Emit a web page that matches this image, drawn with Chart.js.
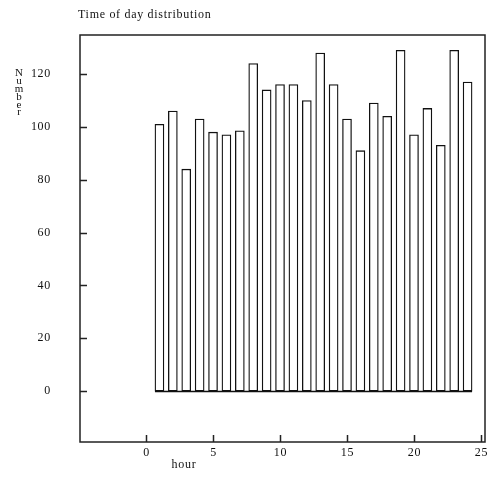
<!DOCTYPE html>
<html>
<head>
<meta charset="utf-8">
<script src="https://cdn.jsdelivr.net/npm/chart.js@4"></script>
<style>
  html, body { margin: 0; padding: 0; background: #fff; }
  #wrap { width: 488px; height: 477px; }
</style>
</head>
<body>
<div id="wrap"><canvas id="hourChart" width="488" height="477"></canvas></div>
<script>
// hour of day -> count
const hours = [1, 2, 3, 4, 5, 6, 7, 8, 9, 10, 11, 12, 13, 14, 15, 16, 17, 18, 19, 20, 21, 22, 23, 24];
const counts = [101, 106, 84, 103, 98, 97, 98.5, 124, 114, 116, 116, 110, 128, 116, 103, 91, 109, 104, 129, 97, 107, 93, 129, 117];
const xTicks = [0, 5, 10, 15, 20, 25];
const yTicks = [0, 20, 40, 60, 80, 100, 120];

const titleText = "Time of day distribution";
const xLabel = "hour";
const yLabel = "Number";
const FONT = "'Liberation Serif', 'DejaVu Serif', serif";
const INK = '#222';

// frame, inward ticks, baseline, and all text drawn by hand
const framePlugin = {
    id: 'frame',
    afterDraw(chart) {
        const ctx = chart.ctx;
        const a = chart.chartArea;
        const xs = chart.scales.x, ys = chart.scales.y;
        ctx.save();
        ctx.strokeStyle = INK;
        ctx.lineWidth = 1.5;
        ctx.strokeRect(a.left, a.top, a.right - a.left, a.bottom - a.top);

        ctx.beginPath();
        yTicks.forEach(v => {
            const py = Math.round(ys.getPixelForValue(v)) + 0.5;
            ctx.moveTo(a.left, py);
            ctx.lineTo(a.left + 7, py);
        });
        xTicks.forEach(v => {
            const px = Math.round(xs.getPixelForValue(v)) + 0.5;
            ctx.moveTo(px, a.bottom);
            ctx.lineTo(px, a.bottom - 7);
        });
        ctx.stroke();

        // joined baseline under the boxes
        const bars = chart.getDatasetMeta(0).data;
        const first = bars[0], last = bars[bars.length - 1];
        const y0 = Math.round(ys.getPixelForValue(0)) + 0.5;
        ctx.lineWidth = 1.3;
        ctx.strokeStyle = '#111';
        ctx.beginPath();
        ctx.moveTo(first.x - first.width / 2, y0);
        ctx.lineTo(last.x + last.width / 2, y0);
        ctx.stroke();

        ctx.fillStyle = '#111';
        ctx.font = '12px ' + FONT;
        ctx.letterSpacing = '0.7px';
        ctx.textBaseline = 'middle';

        ctx.textAlign = 'right';
        yTicks.forEach(v => ctx.fillText(String(v), 51, ys.getPixelForValue(v)));

        ctx.textAlign = 'center';
        xTicks.forEach(v => ctx.fillText(String(v), xs.getPixelForValue(v) + 0.5, 453));
        ctx.fillText(xLabel, 184, 465);

        ctx.textAlign = 'left';
        ctx.fillText(titleText, 78, 15);

        ctx.letterSpacing = '0px';
        ctx.textAlign = 'center';
        ctx.font = '11px ' + FONT;
        yLabel.split('').forEach((ch, i) => {
            ctx.fillText(ch, 19, 73.5 + i * 7.8);
        });
        ctx.restore();
    }
};

new Chart(document.getElementById('hourChart'), {
    type: 'bar',
    data: {
        datasets: [{
            data: hours.map((h, i) => ({ x: h, y: counts[i] })),
            backgroundColor: '#fff',
            borderColor: '#111',
            borderWidth: 1.3,
            borderSkipped: false,
            barThickness: 9
        }]
    },
    options: {
        responsive: false,
        animation: false,
        layout: { padding: { top: 35, right: 3, left: 0, bottom: 0 } },
        plugins: {
            legend: { display: false },
            tooltip: { enabled: false },
            title: { display: false }
        },
        scales: {
            x: {
                type: 'linear',
                min: -4.93,
                max: 25.3,
                offset: false,
                grid: { display: false, drawTicks: false },
                border: { display: false },
                afterBuildTicks: s => { s.ticks = xTicks.map(v => ({ value: v })); },
                afterFit: s => { s.height = 35; },
                ticks: { display: false }
            },
            y: {
                min: -19.3,
                max: 134.8,
                grid: { display: false, drawTicks: false },
                border: { display: false },
                afterBuildTicks: s => { s.ticks = yTicks.map(v => ({ value: v })); },
                afterFit: s => { s.width = 80; },
                ticks: { display: false }
            }
        }
    },
    plugins: [framePlugin]
});
</script>
</body>
</html>
